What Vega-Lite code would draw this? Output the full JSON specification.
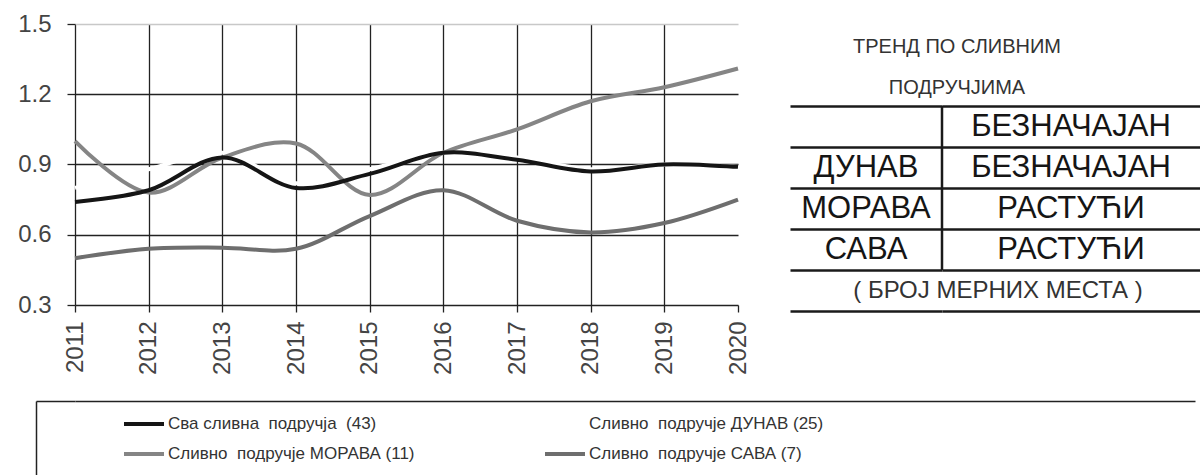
{
  "$schema": "https://vega.github.io/schema/vega-lite/v6.json",
  "padding": {"left": 17, "top": 12, "right": 0, "bottom": 0},
  "background": "white",
  "config": {"view": {"stroke": null}, "font": "Liberation Sans"},
  "datasets": {
    "lines": [
      {"year": 2011, "series": "Dunav", "value": 0.8},
      {"year": 2012, "series": "Dunav", "value": 0.88},
      {"year": 2013, "series": "Dunav", "value": 0.95},
      {"year": 2014, "series": "Dunav", "value": 0.82},
      {"year": 2015, "series": "Dunav", "value": 0.88},
      {"year": 2016, "series": "Dunav", "value": 0.95},
      {"year": 2017, "series": "Dunav", "value": 0.93},
      {"year": 2018, "series": "Dunav", "value": 0.88},
      {"year": 2019, "series": "Dunav", "value": 0.9},
      {"year": 2020, "series": "Dunav", "value": 0.89},
      {"year": 2011, "series": "Sava", "value": 0.5},
      {"year": 2012, "series": "Sava", "value": 0.54},
      {"year": 2013, "series": "Sava", "value": 0.545},
      {"year": 2014, "series": "Sava", "value": 0.54},
      {"year": 2015, "series": "Sava", "value": 0.68},
      {"year": 2016, "series": "Sava", "value": 0.79},
      {"year": 2017, "series": "Sava", "value": 0.66},
      {"year": 2018, "series": "Sava", "value": 0.61},
      {"year": 2019, "series": "Sava", "value": 0.65},
      {"year": 2020, "series": "Sava", "value": 0.75},
      {"year": 2011, "series": "Morava", "value": 1.0},
      {"year": 2012, "series": "Morava", "value": 0.78},
      {"year": 2013, "series": "Morava", "value": 0.93},
      {"year": 2014, "series": "Morava", "value": 0.99},
      {"year": 2015, "series": "Morava", "value": 0.77},
      {"year": 2016, "series": "Morava", "value": 0.95},
      {"year": 2017, "series": "Morava", "value": 1.05},
      {"year": 2018, "series": "Morava", "value": 1.17},
      {"year": 2019, "series": "Morava", "value": 1.23},
      {"year": 2020, "series": "Morava", "value": 1.31},
      {"year": 2011, "series": "All", "value": 0.74},
      {"year": 2012, "series": "All", "value": 0.79},
      {"year": 2013, "series": "All", "value": 0.93},
      {"year": 2014, "series": "All", "value": 0.8},
      {"year": 2015, "series": "All", "value": 0.86},
      {"year": 2016, "series": "All", "value": 0.95},
      {"year": 2017, "series": "All", "value": 0.92},
      {"year": 2018, "series": "All", "value": 0.87},
      {"year": 2019, "series": "All", "value": 0.9},
      {"year": 2020, "series": "All", "value": 0.89}
    ],
    "table": [
      {"row": "t1", "col": "T", "label": "ТРЕНД ПО СЛИВНИМ"},
      {"row": "t2", "col": "T", "label": "ПОДРУЧЈИМА"},
      {"row": "r1", "col": "L", "label": ""},
      {"row": "r1", "col": "R", "label": "БЕЗНАЧАЈАН"},
      {"row": "r2", "col": "L", "label": "ДУНАВ"},
      {"row": "r2", "col": "R", "label": "БЕЗНАЧАЈАН"},
      {"row": "r3", "col": "L", "label": "МОРАВА"},
      {"row": "r3", "col": "R", "label": "РАСТУЋИ"},
      {"row": "r4", "col": "L", "label": "САВА"},
      {"row": "r4", "col": "R", "label": "РАСТУЋИ"},
      {"row": "r5", "col": "S", "label": "( БРОЈ МЕРНИХ МЕСТА )"}
    ],
    "box": [{"v": 0}, {"v": 1}]
  },
  "spacing": 23,
  "vconcat": [
    {
      "spacing": 40,
      "hconcat": [
        {
          "width": 663,
          "height": 281,
          "data": {"name": "lines"},
          "mark": {"type": "line", "interpolate": "catmull-rom", "strokeWidth": 4},
          "encoding": {
            "x": {
              "field": "year", "type": "ordinal",
              "scale": {"type": "point", "padding": 0},
              "axis": {
                "title": null, "labelAngle": -90, "labelFontSize": 24, "labelColor": "#444",
                "labelPadding": 9, "tickSize": 7, "tickColor": "#222", "tickWidth": 1.3,
                "domain": false, "grid": true, "gridColor": "#222", "gridWidth": 1.3,
                "gridOpacity": {"condition": {"test": "datum.value == 2020", "value": 0}, "value": 1}
              }
            },
            "y": {
              "field": "value", "type": "quantitative",
              "scale": {"domain": [0.3, 1.5], "nice": false, "zero": false},
              "axis": {
                "title": null, "values": [0.3, 0.6, 0.9, 1.2, 1.5], "format": ".1f",
                "labelFontSize": 24, "labelColor": "#444", "labelPadding": 16,
                "tickSize": 8, "tickColor": "#222", "tickWidth": 1.3, "domain": false,
                "grid": true, "gridWidth": 1.3,
                "gridColor": {"condition": {"test": "datum.value == 1.5", "value": "#c8c8c8"}, "value": "#222"}
              }
            },
            "color": {
              "field": "series", "type": "nominal",
              "scale": {"domain": ["All", "Dunav", "Morava", "Sava"], "range": ["#151515", "#ffffff", "#858585", "#6e6e6e"]},
              "legend": {
                "title": null, "orient": "none", "legendX": 47, "legendY": 378,
                "direction": "horizontal", "columns": 2, "columnPadding": 122, "rowPadding": -9,
                "symbolType": "stroke", "symbolSize": 1600, "symbolStrokeWidth": 4,
                "labelFont": "Liberation Sans", "labelFontSize": 17, "labelColor": "#333",
                "labelOffset": 2, "labelLimit": 400, "padding": 0,
                "labelExpr": "{'All': 'Сва сливна\u00a0 подручја\u00a0 (43)', 'Dunav': 'Сливно\u00a0 подручје ДУНАВ (25)', 'Morava': 'Сливно\u00a0 подручје МОРАВА (11)', 'Sava': 'Сливно\u00a0 подручје САВА (7)'}[datum.value]"
              }
            }
          }
        },
        {
          "spacing": 0,
          "bounds": "flush",
          "hconcat": [
            {
              "width": 152,
              "height": 287,
              "data": {"name": "table"},
              "encoding": {
                "y": {
                  "field": "row", "type": "ordinal",
                  "scale": {"domain": ["t1", "t2", "r1", "r2", "r3", "r4", "r5"], "paddingInner": 0, "paddingOuter": 0},
                  "axis": {"title": null, "labels": false, "ticks": false, "domain": false, "grid": true, "tickBand": "extent",
                           "values": ["r1", "r2", "r3", "r4", "r5"], "gridColor": "#1a1a1a", "gridWidth": 2.5}
                }
              },
              "layer": [
                {
                  "transform": [{"filter": "datum.col === 'L'"}],
                  "mark": {"type": "bar", "fill": null, "stroke": "#1a1a1a", "strokeWidth": 2.5},
                  "encoding": {"x": {"value": "width"}, "x2": {"value": "width"}}
                },
                {
                  "transform": [{"filter": "datum.col === 'L'"}],
                  "mark": {"type": "text", "fontSize": 31, "color": "#151515", "baseline": "middle"},
                  "encoding": {"text": {"field": "label"}}
                },
                {
                  "transform": [{"filter": "datum.col === 'T'"}],
                  "mark": {"type": "text", "fontSize": 20, "color": "#333", "baseline": "middle", "align": "center", "dx": 15, "dy": 2},
                  "encoding": {"x": {"value": "width"}, "text": {"field": "label"}}
                },
                {
                  "transform": [{"filter": "datum.col === 'S'"}],
                  "mark": {"type": "text", "fontSize": 24, "color": "#333", "baseline": "middle", "align": "center", "dx": 56},
                  "encoding": {"x": {"value": "width"}, "text": {"field": "label"}}
                }
              ]
            },
            {
              "width": 258,
              "height": 287,
              "data": {"name": "table"},
              "transform": [{"filter": "datum.col === 'R'"}],
              "mark": {"type": "text", "fontSize": 31, "color": "#151515", "baseline": "middle"},
              "encoding": {
                "y": {
                  "field": "row", "type": "ordinal",
                  "scale": {"domain": ["t1", "t2", "r1", "r2", "r3", "r4", "r5"], "paddingInner": 0, "paddingOuter": 0},
                  "axis": {"title": null, "labels": false, "ticks": false, "domain": false, "grid": true, "tickBand": "extent",
                           "values": ["r1", "r2", "r3", "r4", "r5"], "gridColor": "#1a1a1a", "gridWidth": 2.5}
                },
                "text": {"field": "label"}
              }
            }
          ]
        }
      ]
    },
    {
      "width": 1120,
      "height": 76,
      "data": {"name": "box"},
      "mark": {"type": "point", "opacity": 0},
      "encoding": {
        "y": {
          "field": "v", "type": "quantitative",
          "scale": {"domain": [0, 1], "nice": false},
          "axis": {"title": null, "labels": false, "values": [1], "ticks": true, "tickSize": -39, "offset": 39,
                   "grid": true, "gridColor": "#222", "gridWidth": 1.5, "tickColor": "#222", "tickWidth": 1.5,
                   "domain": true, "domainColor": "#222", "domainWidth": 1.5, "minExtent": 0}
        }
      }
    }
  ],
  "resolve": {"scale": {"y": "independent"}}
}
